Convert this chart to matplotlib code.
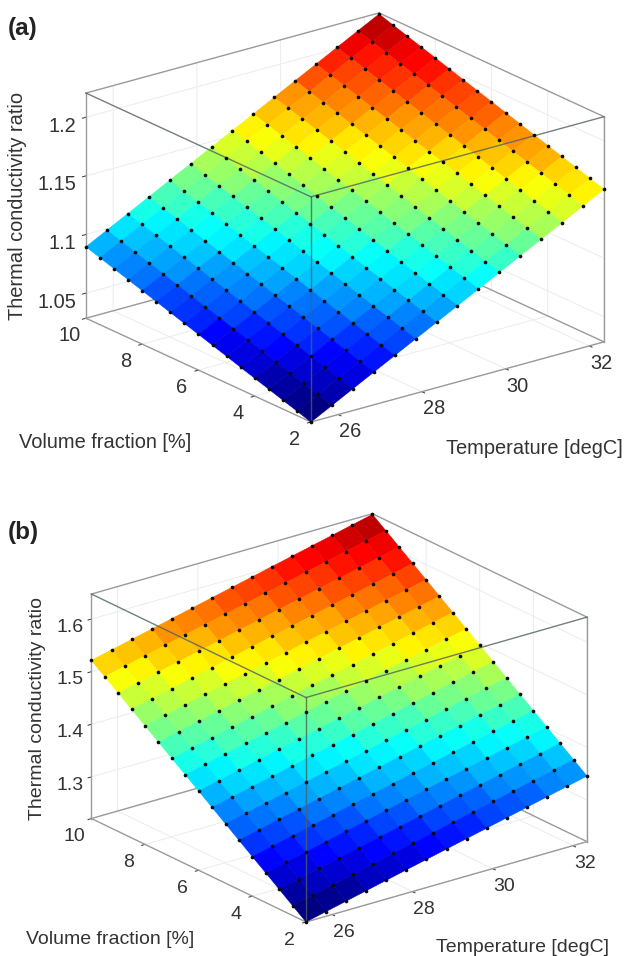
import numpy as np
import matplotlib
matplotlib.use('Agg')
import matplotlib.pyplot as plt
from matplotlib.colors import LinearSegmentedColormap
from mpl_toolkits.mplot3d import proj3d

plt.rcParams['font.family'] = ['Liberation Sans', 'DejaVu Sans']
plt.rcParams['grid.color'] = '#ececec'
plt.rcParams['grid.linewidth'] = 0.7

# axes values
temperature = [25.35, 25.85, 26.35, 26.85, 27.35, 27.85, 28.35, 28.85, 29.35, 29.85, 30.35, 30.85, 31.35, 31.85, 32.35]
volume_fraction = [2, 2.5, 3, 3.5, 4, 4.5, 5, 5.5, 6, 6.5, 7, 7.5, 8, 8.5, 9, 9.5, 10]
temp_ticks = [26, 28, 30, 32]
vol_ticks = [2, 4, 6, 8, 10]

# ratio, one row for each volume fraction
ratio_a = [
    [1.0286, 1.0379, 1.0472, 1.0565, 1.0658, 1.0751, 1.0843, 1.0936, 1.1029, 1.1122, 1.1215, 1.1308, 1.1401, 1.1494, 1.1587],
    [1.0324, 1.0417, 1.0510, 1.0603, 1.0696, 1.0789, 1.0881, 1.0974, 1.1067, 1.1160, 1.1253, 1.1346, 1.1439, 1.1532, 1.1625],
    [1.0362, 1.0455, 1.0548, 1.0641, 1.0734, 1.0827, 1.0919, 1.1012, 1.1105, 1.1198, 1.1291, 1.1384, 1.1477, 1.1570, 1.1663],
    [1.0400, 1.0493, 1.0586, 1.0679, 1.0772, 1.0865, 1.0957, 1.1050, 1.1143, 1.1236, 1.1329, 1.1422, 1.1515, 1.1608, 1.1701],
    [1.0438, 1.0531, 1.0624, 1.0717, 1.0810, 1.0903, 1.0995, 1.1088, 1.1181, 1.1274, 1.1367, 1.1460, 1.1553, 1.1646, 1.1739],
    [1.0476, 1.0569, 1.0662, 1.0755, 1.0848, 1.0941, 1.1033, 1.1126, 1.1219, 1.1312, 1.1405, 1.1498, 1.1591, 1.1684, 1.1777],
    [1.0515, 1.0608, 1.0701, 1.0794, 1.0887, 1.0980, 1.1072, 1.1165, 1.1258, 1.1351, 1.1444, 1.1537, 1.1630, 1.1723, 1.1816],
    [1.0553, 1.0646, 1.0739, 1.0832, 1.0925, 1.1018, 1.1110, 1.1203, 1.1296, 1.1389, 1.1482, 1.1575, 1.1668, 1.1761, 1.1854],
    [1.0591, 1.0684, 1.0777, 1.0870, 1.0963, 1.1056, 1.1148, 1.1241, 1.1334, 1.1427, 1.1520, 1.1613, 1.1706, 1.1799, 1.1892],
    [1.0629, 1.0722, 1.0815, 1.0908, 1.1001, 1.1094, 1.1186, 1.1279, 1.1372, 1.1465, 1.1558, 1.1651, 1.1744, 1.1837, 1.1930],
    [1.0667, 1.0760, 1.0853, 1.0946, 1.1039, 1.1132, 1.1224, 1.1317, 1.1410, 1.1503, 1.1596, 1.1689, 1.1782, 1.1875, 1.1968],
    [1.0705, 1.0798, 1.0891, 1.0984, 1.1077, 1.1170, 1.1262, 1.1355, 1.1448, 1.1541, 1.1634, 1.1727, 1.1820, 1.1913, 1.2006],
    [1.0743, 1.0836, 1.0929, 1.1022, 1.1115, 1.1208, 1.1300, 1.1393, 1.1486, 1.1579, 1.1672, 1.1765, 1.1858, 1.1951, 1.2044],
    [1.0781, 1.0874, 1.0967, 1.1060, 1.1153, 1.1246, 1.1338, 1.1431, 1.1524, 1.1617, 1.1710, 1.1803, 1.1896, 1.1989, 1.2082],
    [1.0819, 1.0912, 1.1005, 1.1098, 1.1191, 1.1284, 1.1376, 1.1469, 1.1562, 1.1655, 1.1748, 1.1841, 1.1934, 1.2027, 1.2120],
    [1.0857, 1.0950, 1.1043, 1.1136, 1.1229, 1.1322, 1.1414, 1.1507, 1.1600, 1.1693, 1.1786, 1.1879, 1.1972, 1.2065, 1.2158],
    [1.0895, 1.0988, 1.1081, 1.1174, 1.1267, 1.1360, 1.1452, 1.1545, 1.1638, 1.1731, 1.1824, 1.1917, 1.2010, 1.2103, 1.2196],
]
ratio_a_ticks = [1.05, 1.1, 1.15, 1.2]
ratio_a_tick_labels = ['1.05', '1.1', '1.15', '1.2']

# ratio
ratio_b = [
    [1.2210, 1.2299, 1.2388, 1.2477, 1.2566, 1.2655, 1.2744, 1.2833, 1.2922, 1.3011, 1.3100, 1.3189, 1.3278, 1.3367, 1.3456],
    [1.2398, 1.2487, 1.2576, 1.2665, 1.2754, 1.2843, 1.2932, 1.3021, 1.3110, 1.3199, 1.3288, 1.3377, 1.3466, 1.3555, 1.3644],
    [1.2586, 1.2675, 1.2764, 1.2853, 1.2942, 1.3031, 1.3120, 1.3209, 1.3298, 1.3387, 1.3476, 1.3565, 1.3654, 1.3743, 1.3832],
    [1.2774, 1.2863, 1.2952, 1.3041, 1.3130, 1.3219, 1.3308, 1.3397, 1.3486, 1.3575, 1.3664, 1.3753, 1.3842, 1.3931, 1.4020],
    [1.2961, 1.3050, 1.3139, 1.3228, 1.3317, 1.3406, 1.3495, 1.3584, 1.3673, 1.3762, 1.3851, 1.3940, 1.4029, 1.4118, 1.4207],
    [1.3149, 1.3238, 1.3327, 1.3416, 1.3505, 1.3594, 1.3683, 1.3772, 1.3861, 1.3950, 1.4039, 1.4128, 1.4217, 1.4306, 1.4395],
    [1.3337, 1.3426, 1.3515, 1.3604, 1.3693, 1.3782, 1.3871, 1.3960, 1.4049, 1.4138, 1.4227, 1.4316, 1.4405, 1.4494, 1.4583],
    [1.3525, 1.3614, 1.3703, 1.3792, 1.3881, 1.3970, 1.4059, 1.4148, 1.4237, 1.4326, 1.4415, 1.4504, 1.4593, 1.4682, 1.4771],
    [1.3713, 1.3802, 1.3891, 1.3980, 1.4069, 1.4158, 1.4247, 1.4336, 1.4425, 1.4514, 1.4603, 1.4692, 1.4781, 1.4870, 1.4959],
    [1.3901, 1.3990, 1.4079, 1.4168, 1.4257, 1.4346, 1.4435, 1.4524, 1.4613, 1.4702, 1.4791, 1.4880, 1.4969, 1.5058, 1.5147],
    [1.4088, 1.4177, 1.4266, 1.4355, 1.4444, 1.4533, 1.4622, 1.4711, 1.4800, 1.4889, 1.4978, 1.5067, 1.5156, 1.5245, 1.5334],
    [1.4276, 1.4365, 1.4454, 1.4543, 1.4632, 1.4721, 1.4810, 1.4899, 1.4988, 1.5077, 1.5166, 1.5255, 1.5344, 1.5433, 1.5522],
    [1.4464, 1.4553, 1.4642, 1.4731, 1.4820, 1.4909, 1.4998, 1.5087, 1.5176, 1.5265, 1.5354, 1.5443, 1.5532, 1.5621, 1.5710],
    [1.4652, 1.4741, 1.4830, 1.4919, 1.5008, 1.5097, 1.5186, 1.5275, 1.5364, 1.5453, 1.5542, 1.5631, 1.5720, 1.5809, 1.5898],
    [1.4840, 1.4929, 1.5018, 1.5107, 1.5196, 1.5285, 1.5374, 1.5463, 1.5552, 1.5641, 1.5730, 1.5819, 1.5908, 1.5997, 1.6086],
    [1.5028, 1.5117, 1.5206, 1.5295, 1.5384, 1.5473, 1.5562, 1.5651, 1.5740, 1.5829, 1.5918, 1.6007, 1.6096, 1.6185, 1.6274],
    [1.5215, 1.5304, 1.5393, 1.5482, 1.5571, 1.5660, 1.5749, 1.5838, 1.5927, 1.6016, 1.6105, 1.6194, 1.6283, 1.6372, 1.6461],
]
ratio_b_ticks = [1.3, 1.4, 1.5, 1.6]
ratio_b_tick_labels = ['1.3', '1.4', '1.5', '1.6']

# matlab flavour of jet, the matplotlib one has its yellow shifted
matlab_jet = LinearSegmentedColormap.from_list('matlab_jet', [
    (0, (0, 0, 0.5)), (1 / 8, (0, 0, 1)), (3 / 8, (0, 1, 1)),
    (5 / 8, (1, 1, 0)), (7 / 8, (1, 0, 0)), (1, (0.5, 0, 0))], N=64)

W, H = 625, 956
fig = plt.figure(figsize=(W / 100, H / 100), dpi=100)


# move the square 3d axes so the front and right box corners land on given pixels
def place_axes(ax, zmin, front, right_x):
    ax.set_position([100 / W, 100 / H, 400 / W, 400 / H])
    M = ax.get_proj()
    x0, y0, _ = proj3d.proj_transform(temperature[0], volume_fraction[0], zmin, M)
    x1, y1, _ = proj3d.proj_transform(temperature[-1], volume_fraction[0], zmin, M)
    to_axes = ax.transData + ax.transAxes.inverted()
    a0, a1 = to_axes.transform([(x0, y0), (x1, y1)])
    size = (right_x - front[0]) / (a1[0] - a0[0])
    left = front[0] - a0[0] * size
    bottom = (H - front[1]) - a0[1] * size
    ax.set_position([left / W, bottom / H, size / W, size / H])


def draw_panel(ratio, zlim, zticks, zlabels, elev, aspect, front, right_x, tag, tag_y,
               ylab_xy, vol_xy, temp_xy, fsize, zpad):
    ax = fig.add_axes([0, 0, 1, 1], projection='3d', proj_type='ortho', computed_zorder=False)
    ax.patch.set_visible(False)
    ax.view_init(elev=elev, azim=-127.6)
    ax.set_box_aspect(aspect)
    x0, x1 = temperature[0], temperature[-1]
    y0, y1 = volume_fraction[0], volume_fraction[-1]
    z0, z1 = zlim
    ax.set_xlim(x0, x1)
    ax.set_ylim(y0, y1)
    ax.set_zlim(z0, z1)
    ax.set_xticks(temp_ticks)
    ax.set_yticks(vol_ticks)
    ax.set_zticks(zticks)
    ax.set_zticklabels(zlabels)
    for axis in (ax.xaxis, ax.yaxis, ax.zaxis):
        axis.set_pane_color((1, 1, 1, 0))
        axis.pane.set_edgecolor((1, 1, 1, 0))
        axis.line.set_color((1, 1, 1, 0))
        axis._axinfo['tick']['inward_factor'] = 0.15
        axis._axinfo['tick']['outward_factor'] = 0.0
        axis._axinfo['tick']['linewidth'] = {True: 0.7, False: 0.5}
        axis._axinfo['tick']['color'] = '#777777'
    ax.tick_params(axis='both', labelsize=fsize, colors='#333333')
    ax.tick_params(axis='x', pad=3)
    ax.tick_params(axis='y', pad=4)
    ax.tick_params(axis='z', pad=zpad)
    ax.zaxis.set_ticks_position('upper')
    # nudge the labels to where the reference has them
    for t in ax.get_xticklabels():
        t.set_va('center')
    for t in ax.get_yticklabels():
        t.set_va('center')
    for t in ax.get_zticklabels():
        t.set_ha('right')

    # back edges of the box, behind the surface
    back = [((x0, y1, z0), (x1, y1, z0)), ((x1, y0, z0), (x1, y1, z0)), ((x0, y0, z0), (x1, y0, z0)),
            ((x0, y0, z0), (x0, y1, z0)), ((x0, y1, z0), (x0, y1, z1)), ((x1, y0, z0), (x1, y0, z1)),
            ((x0, y1, z1), (x1, y1, z1)), ((x1, y0, z1), (x1, y1, z1))]
    for a, b in back:
        ax.plot(*zip(a, b), color='#9a9a9a', lw=1.0, zorder=1)

    X, Y = np.meshgrid(temperature, volume_fraction)
    Z = np.array(ratio)
    # each cell takes the colour of its lowest corner
    colors = matlab_jet((Z - z0) / (z1 - z0))
    ax.plot_surface(X, Y, Z, rstride=1, cstride=1, facecolors=colors,
                    shade=False, linewidth=0.4, antialiased=True, zorder=2)

    # front edges drawn over the surface
    front_lines = [((x0, y0, z0), (x0, y0, z1)), ((x0, y0, z1), (x0, y1, z1)), ((x0, y0, z1), (x1, y0, z1))]
    for a, b in front_lines:
        ax.plot(*zip(a, b), color='#4f5f5f', lw=1.0, alpha=0.8, zorder=3)

    ax.scatter(X.ravel(), Y.ravel(), Z.ravel(), s=7, c='#0a0a0a', linewidths=0,
               depthshade=False, zorder=4)

    place_axes(ax, z0, front, right_x)

    fig.text(8 / W, 1 - tag_y / H, tag, fontsize=17.5, fontweight='bold', color='#222222',
             va='center', ha='left')
    fig.text(ylab_xy[0] / W, 1 - ylab_xy[1] / H, 'Thermal conductivity ratio', rotation=90,
             fontsize=fsize, color='#333333', va='center', ha='center')
    fig.text(vol_xy[0] / W, 1 - vol_xy[1] / H, 'Volume fraction [%]', fontsize=fsize,
             color='#333333', va='center', ha='center')
    fig.text(temp_xy[0] / W, 1 - temp_xy[1] / H, 'Temperature [degC]', fontsize=fsize,
             color='#333333', va='center', ha='center')
    return ax


draw_panel(ratio_a, (1.0286, 1.2206), ratio_a_ticks, ratio_a_tick_labels, 20.8, (370, 369, 241),
           (311, 422), 604, '(a)', 28, (18, 206), (105, 443), (534, 448), 14.4, -4)
draw_panel(ratio_b, (1.2209, 1.6475), ratio_b_ticks, ratio_b_tick_labels, 21.8, (355, 352, 242),
           (306, 922), 587, '(b)', 533, (38, 708), (110, 940), (522, 947), 14, -5)

fig.savefig('out.png', dpi=100)
plt.close(fig)
